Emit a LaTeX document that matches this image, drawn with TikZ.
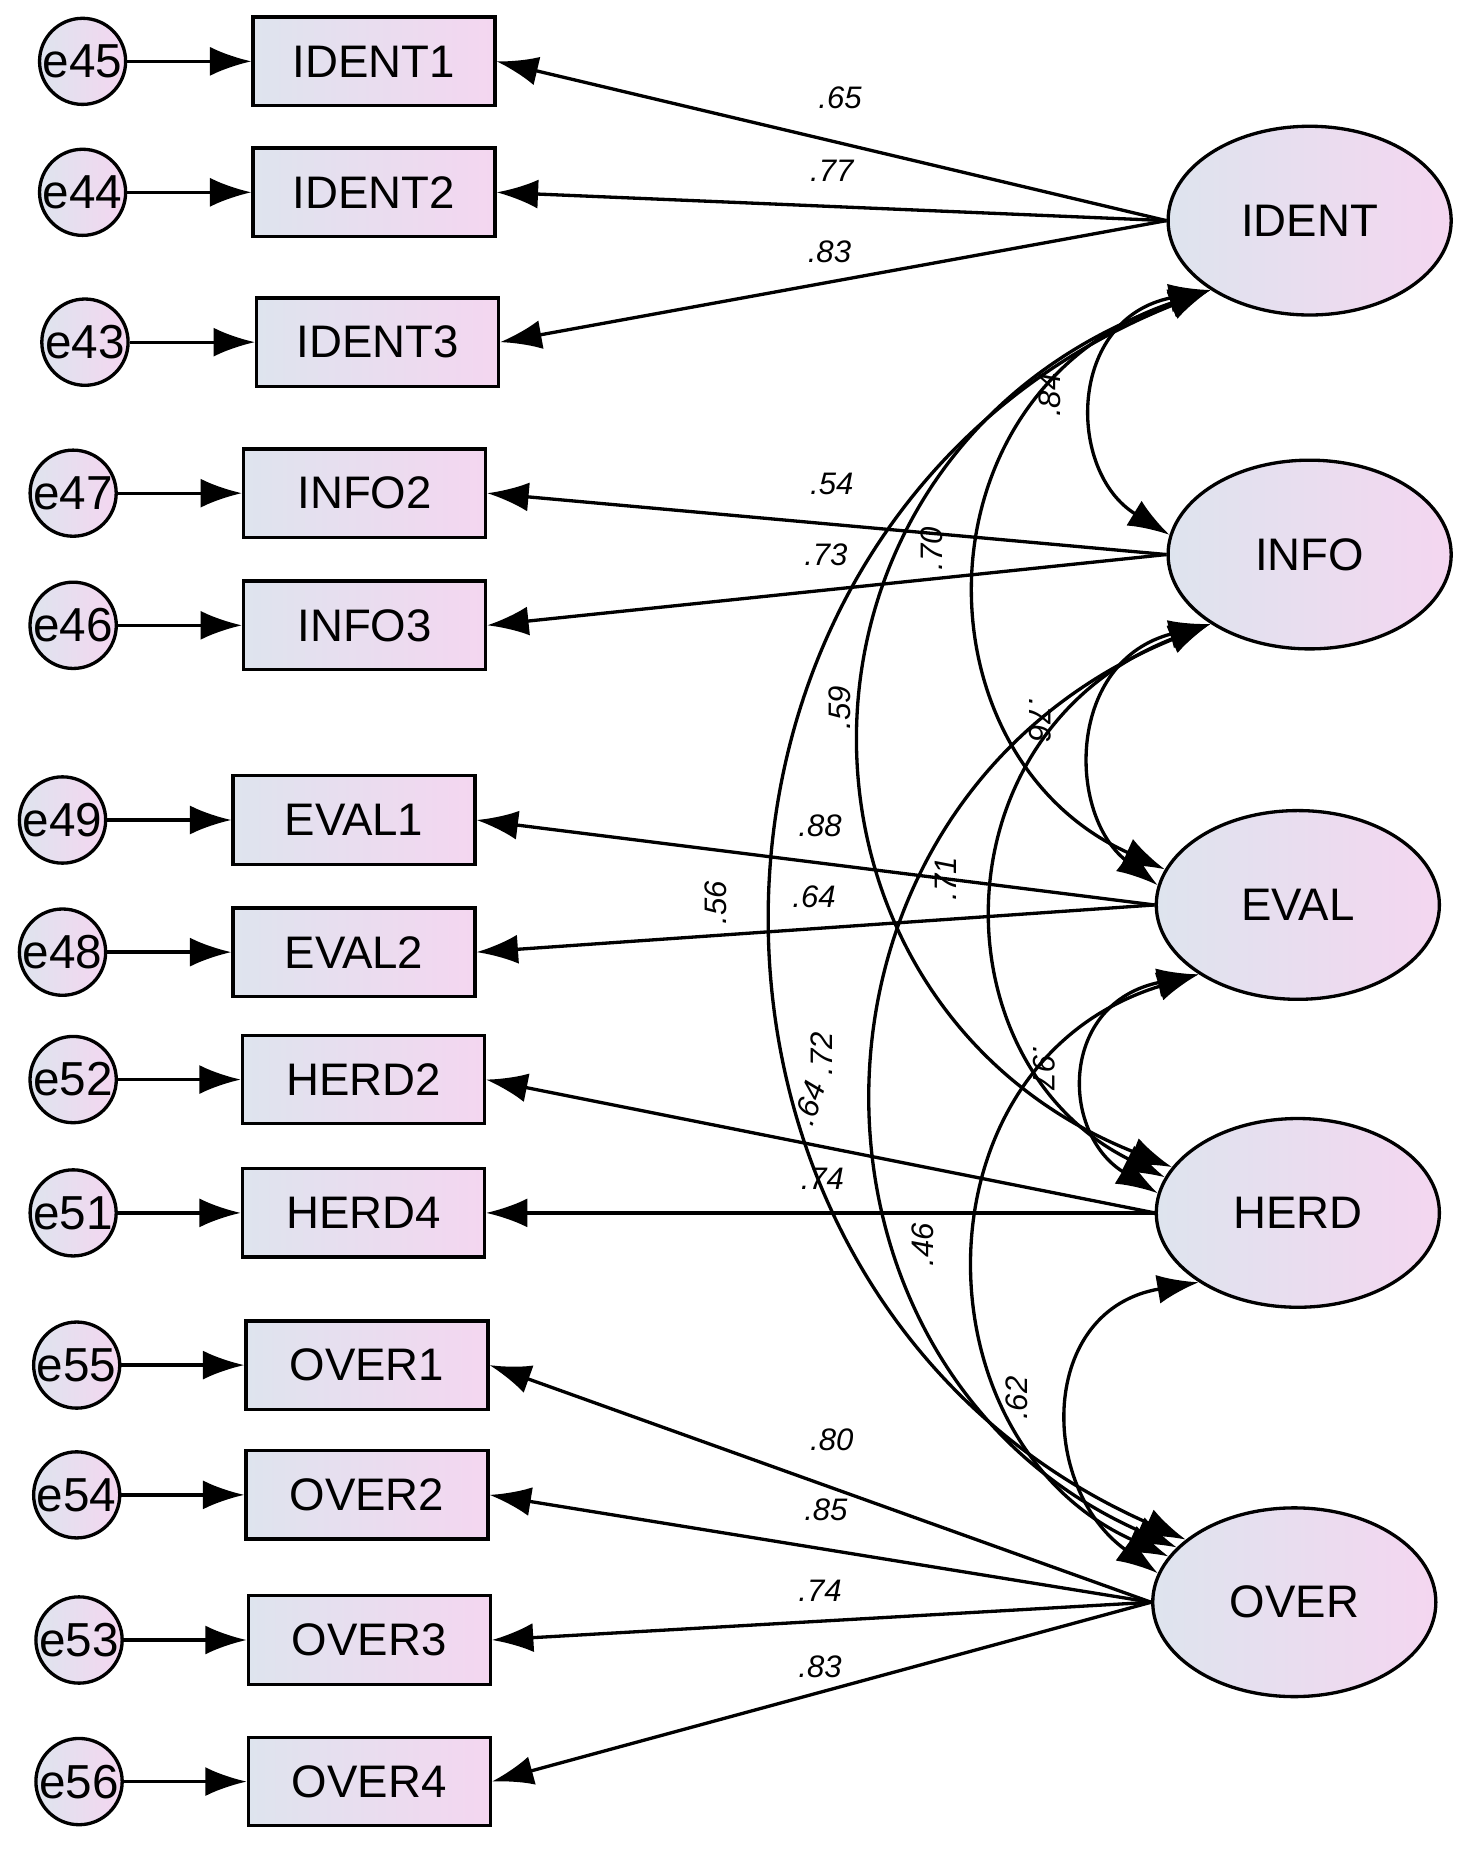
\documentclass[tikz,border=0pt]{standalone}
\usepackage{fontspec}
\setmainfont{Liberation Sans}
\usetikzlibrary{arrows.meta,shapes.geometric}
\definecolor{lc}{RGB}{222,228,238}
\definecolor{rc}{RGB}{244,214,240}
\begin{document}
\begin{tikzpicture}[x=0.02cm,y=-0.02cm,
 obs/.style={draw,line width=1.6pt,minimum width=4.1cm,minimum height=1.5cm,left color=lc,right color=rc,font=\fontsize{22}{24}\selectfont},
 err/.style={circle,draw,line width=1.6pt,minimum size=1.46cm,inner sep=0pt,left color=lc,right color=rc,font=\fontsize{23}{24}\selectfont},
 lat/.style={ellipse,draw,line width=1.6pt,minimum width=4.8cm,minimum height=3.2cm,left color=lc,right color=rc,font=\fontsize{22}{24}\selectfont},
 arr/.style={-{Latex[length=20pt,width=14pt]},line width=1.6pt},
 darr/.style={{Latex[length=20pt,width=14pt]}-{Latex[length=20pt,width=14pt]},line width=1.6pt},
 lab/.style={font=\fontsize{15}{17}\selectfont\itshape,inner sep=1pt}]
\useasboundingbox (0,0) rectangle (1245,1568);
\foreach \n/\e/\t/\x/\y/\ex in {i1/e45/IDENT1/317/52/70,i2/e44/IDENT2/317/163/70,i3/e43/IDENT3/320/290/72,
 f2/e47/INFO2/309/418/62,f3/e46/INFO3/309/530/62,v1/e49/EVAL1/300/695/53,v2/e48/EVAL2/300/807/53,
 h2/e52/HERD2/308/915/62,h4/e51/HERD4/308/1028/62,o1/e55/OVER1/311/1157/65,o2/e54/OVER2/311/1267/65,
 o3/e53/OVER3/313/1390/67,o4/e56/OVER4/313/1510/67}{
 \node[obs] (\n) at (\x,\y) {\t};
 \node[err] (\e) at (\ex,\y) {\e};
 \draw[arr] (\e) -- (\n);
}
\node[lat] (ID) at (1110,187) {IDENT};
\node[lat] (IN) at (1110,470) {INFO};
\node[lat] (EV) at (1100,767) {EVAL};
\node[lat] (HE) at (1100,1028) {HERD};
\node[lat] (OV) at (1097,1358) {OVER};
\foreach \a/\b in {ID/i1,ID/i2,ID/i3,IN/f2,IN/f3,EV/v1,EV/v2,HE/h2,HE/h4,OV/o1,OV/o2,OV/o3,OV/o4}
 \draw[arr] (\a.west) -- (\b.east);
% covariances
\draw[darr] (ID.215) .. controls (904,270) and (904,400) .. (IN.172);
\draw[darr] (ID.215) .. controls (773,330) and (773,640) .. (EV.165);
\draw[darr] (ID.215) .. controls (642,380) and (642,850) .. (HE.160);
\draw[darr] (ID.215) .. controls (540,440) and (540,1100) .. (OV.150);
\draw[darr] (IN.215) .. controls (904,560) and (904,690) .. (EV.172);
\draw[darr] (IN.215) .. controls (792,620) and (792,900) .. (HE.165);
\draw[darr] (IN.215) .. controls (655,680) and (655,1160) .. (OV.155);
\draw[darr] (EV.215) .. controls (898,850) and (898,960) .. (HE.172);
\draw[darr] (EV.215) .. controls (773,900) and (773,1220) .. (OV.160);
\draw[darr] (HE.215) .. controls (880,1110) and (880,1260) .. (OV.168);
% loading labels
\foreach \t/\x/\y in {.65/712/83,.77/705/145,.83/703/213,.54/705/410,.73/700/470,.88/695/700,.64/690/760,.74/697/999,.80/705/1220,.85/700/1280,.74/695/1348,.83/695/1413}
 \node[lab] at (\x,\y) {\t};
\foreach \t/\x/\y/\r in {.84/890/335/90,.70/790/465/90,.59/712/600/90,.76/882/610/-90,.71/802/745/90,.56/607/765/90,.97/885/905/-90,.72/696/893/90,.64/686/935/70,.46/782/1055/90,.62/862/1185/90}
 \node[lab,rotate=\r] at (\x,\y) {\t};
\end{tikzpicture}
\end{document}
